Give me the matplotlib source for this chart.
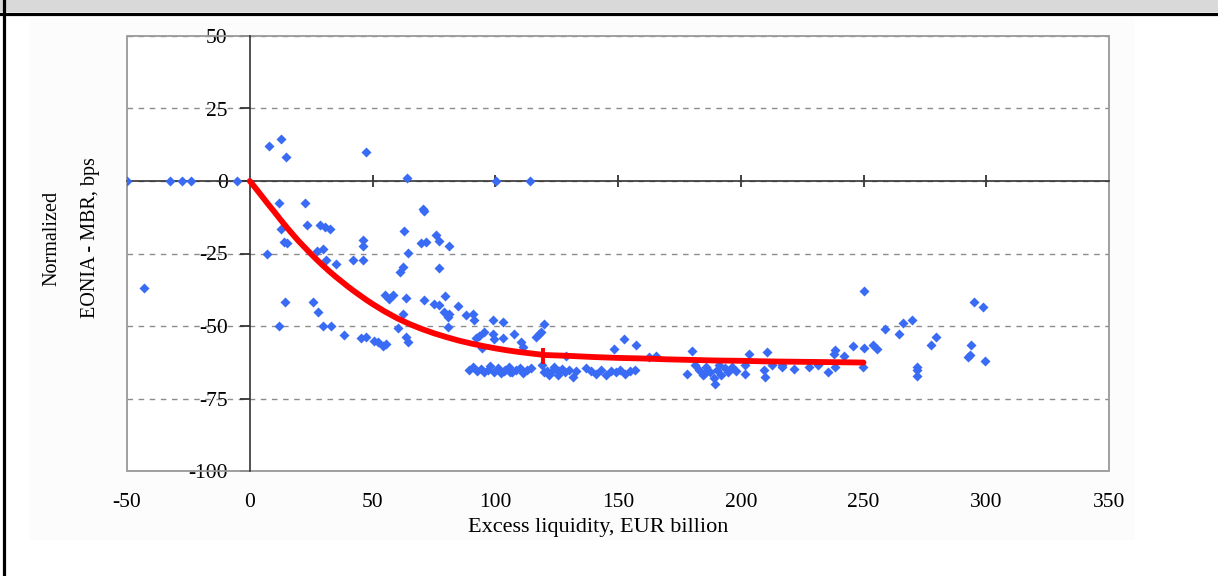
import matplotlib
matplotlib.use("Agg")
import matplotlib.pyplot as plt
from matplotlib.patches import Rectangle
from matplotlib.lines import Line2D

plt.rcParams['font.family'] = ['Liberation Serif', 'DejaVu Serif']
plt.rcParams['axes.unicode_minus'] = False

# Observaciones diarias: exceso de liquidez (mil millones EUR) frente a EONIA - MBR normalizado (pb)
liq_x = [
    -50, -32.5, -27.5, -24, -5, -43,
    7.7, 12.6, 14.6, 47.4, 64.2, 100.4, 114,
    11.8, 22.5, 12.6, 14, 15, 7, 23.3, 28.5, 30.5, 32.5, 27.5, 29.8, 31.2, 35, 42, 46,
    46, 46, 14.5, 25.7, 27.8, 11.8, 29.8, 33.2, 38.2, 45.4, 47.4, 50.8, 52.2, 54.2,
    55.6, 54.9, 58.3, 56.9, 63.7, 62.3, 60.3, 63.7, 64.4, 70.5, 71, 62.7, 64.4, 62.3,
    61.3, 69.8, 71.8, 75.9, 77.2, 81.3, 77, 71.1, 75.2, 77, 79.7, 79.3, 81.3, 80.6,
    84.7, 80.6, 88.1, 90.8, 91.5, 92.1, 93.5, 98.9, 103, 95.5, 98.9, 99.6, 103, 107.7,
    110.4, 111.2, 116.5, 118.6, 120, 94.6, 117.9,
    89.5, 91, 92.5, 94, 95.5, 97, 98, 99.5, 101, 102.5, 104, 105.5, 107, 108.5, 110,
    111.5, 113, 114.5, 103.5, 106,
    120, 122, 124, 119.2, 121,
    123, 125.5, 127, 128.5, 130, 131.5, 133, 126, 128.7,
    137, 139, 141, 143, 145, 147, 149, 151, 153, 155, 157,
    148.4, 152.4, 157.2, 162.6, 165.3, 180.2, 178.2,
    181.5, 183, 184.5, 186, 187.5, 189, 189.4, 190.5, 192, 193.5, 195, 196.5, 198, 185, 191,
    203.3, 210.7, 201.9, 201.9, 209.3, 210, 212.7, 216.8, 221.5, 216.8, 227.6, 231.4,
    235.5, 238.5, 238.5, 237.8, 241.9, 245.9, 250.4, 254, 255.4, 250.4, 249.6, 258.8,
    264.5, 265.9, 269.6, 271.7, 271.7, 271.7, 277.5, 279.5, 293.8, 292.7, 293.4, 295.1,
    298.8, 299.5,
]
spread_y = [
    0, 0, 0, 0, 0, -37,
    12, 14.5, 8.2, 10, 1, 0, 0,
    -7.5, -7.5, -16.4, -21, -21.5, -25.2, -15.2, -15.2, -16, -16.5, -24, -23.3, -27.3, -28.5, -27.3, -27.3,
    -20.2, -22.5, -41.7, -41.7, -45.2, -50, -50, -50, -53, -54.2, -53.8, -55, -55.6, -57,
    -56.1, -39.4, -39.4, -40.6, -40.3, -45.8, -50.7, -53.8, -55.6, -9.8, -10.5, -17.2, -24.7, -29.6,
    -31.4, -21.5, -21, -18.7, -20.6, -22.4, -30, -41.1, -42.3, -42.9, -39.7, -45.2, -45.8, -46.9,
    -43.2, -50.4, -46.3, -46, -48.1, -54, -53.6, -48.1, -48.6, -52.1, -52.7, -54.4, -54, -52.7,
    -55.6, -57.3, -53.8, -52.1, -49.2, -57.6, -52.7,
    -65, -64.3, -65.5, -64.8, -66, -65, -63.8, -65.8, -64.5, -66.2, -65, -64, -66, -65.2, -64.5,
    -66.3, -65, -64.4, -65.5, -65.8,
    -66, -67, -64, -63.6, -65.5,
    -65.5, -66.8, -64.8, -66, -65.2, -67.5, -65.5, -65.5, -60.2,
    -64.5, -65.5, -66.5, -65, -66.8, -65.5, -66, -65.2, -66.5, -65.5, -65,
    -58, -54.4, -56.4, -60.7, -60.2, -58.7, -66.5,
    -63.5, -65, -67, -64, -66, -68, -70, -65, -67, -64.5, -66, -64, -65.5, -66.5, -63.5,
    -59.6, -59, -63.6, -66.5, -65.3, -67.7, -63.6, -63.6, -64.8, -64, -64.2, -63.4,
    -65.7, -64.2, -58.4, -59.6, -60.5, -57, -57.6, -56.7, -57.9, -37.9, -64, -51.2,
    -52.7, -48.9, -47.8, -64, -65.3, -67.1, -56.5, -53.8, -56.5, -60.7, -59.9, -41.7,
    -43.4, -61.9,
]

# Curva ajustada
fit_x = [0, 2.5, 5, 7.5, 10, 12.5, 15, 17.5, 20, 22.5, 25, 27.5, 30, 32.5, 35, 37.5, 40,
         42.5, 45, 47.5, 50, 55, 60, 65, 70, 75, 80, 85, 90, 95, 100, 105,
         110, 115, 120, 130, 140, 150, 160, 170, 180, 190, 200, 210, 220, 230, 240, 250]
fit_y = [0, -2.6, -5.3, -8, -10.6, -13.3, -15.9, -18.4, -20.8, -23, -25.2, -27.3, -29.3,
         -31.2, -33, -34.7, -36.4, -38, -39.5, -41, -42.4, -45, -47.3, -49.3, -51, -52.5,
         -53.8, -55, -56, -56.9, -57.7, -58.4, -59, -59.5, -60, -60.3, -60.7, -61, -61.2,
         -61.5, -61.7, -61.9, -62, -62.2, -62.3, -62.4, -62.5, -62.6]

y_ticks = [50, 25, 0, -25, -50, -75, -100]
x_ticks = [-50, 0, 50, 100, 150, 200, 250, 300, 350]

fig = plt.figure(figsize=(12.18, 5.76), dpi=100)
fig.patch.set_facecolor('white')

# Marco del documento: franja gris, linea negra y borde izquierdo
fig.add_artist(Rectangle((30 / 1218, 1 - 540 / 576), 1105 / 1218, 522 / 576,
                         transform=fig.transFigure, facecolor='#fcfcfc', edgecolor='none', zorder=0))
fig.add_artist(Rectangle((0, 1 - 12 / 576), 1, 12 / 576, transform=fig.transFigure,
                         facecolor='#d9d9d9', edgecolor='none', zorder=0))
fig.add_artist(Line2D([0, 1], [1 - 13.5 / 576] * 2, transform=fig.transFigure,
                      color='black', lw=2.3))
fig.add_artist(Line2D([3.5 / 1218] * 2, [0, 1], transform=fig.transFigure,
                      color='black', lw=2.3))

ax = fig.add_axes([127 / 1218, 1 - 471 / 576, 982 / 1218, 435 / 576])
ax.set_facecolor('white')
ax.set_xlim(-50, 350)
ax.set_ylim(-100, 50)

ax.scatter(liq_x, spread_y, marker='D', s=26, color='#3a6bf5', linewidths=0, zorder=3)
ax.plot(fit_x, fit_y, color='#ff0000', lw=4.2, solid_capstyle='round', zorder=4)
ax.plot([119.5], [-60.3], marker='|', markersize=11, mew=2.8, color='#ff0000', zorder=4)

# Rejilla y recuadro gris del area de trazado
ax.set_yticks(y_ticks)
ax.yaxis.grid(True, color='#8c8c8c', lw=1, linestyle=(0, (4, 4)))
ax.set_axisbelow(True)
ax.add_patch(Rectangle((0, 0), 1, 1, transform=ax.transAxes, fill=False,
                       edgecolor='#999999', lw=1.3, zorder=2, clip_on=False))

# Ejes cruzando en el origen
for side in ['top', 'right']:
    ax.spines[side].set_visible(False)
ax.spines['left'].set_position(('data', 0))
ax.spines['bottom'].set_position(('data', 0))
for side in ['left', 'bottom']:
    ax.spines[side].set_color('#333333')
    ax.spines[side].set_linewidth(1.2)
    ax.spines[side].set_zorder(2.5)

ax.set_xticks([50, 100, 150, 200, 250, 300])
ax.tick_params(axis='x', direction='inout', length=8, width=1.3, color='#333333',
               labelbottom=False)
ax.tick_params(axis='y', direction='out', length=7, width=1.3, color='#333333',
               pad=9, labelsize=15.5)

sec = ax.secondary_xaxis('bottom')
sec.set_xticks(x_ticks)
sec.spines['bottom'].set_visible(False)
sec.tick_params(length=0, pad=16, labelsize=15.5)

ax.set_xlabel('Excess liquidity, EUR billion', fontsize=16)
ax.xaxis.set_label_coords(0.48, -0.108)

fig.text(52 / 1218, 1 - 238 / 576, 'Normalized', rotation=90, fontsize=14.5,
         ha='center', va='center')
fig.text(90 / 1218, 1 - 238 / 576, 'EONIA - MBR, bps', rotation=90, fontsize=14.5,
         ha='center', va='center')

plt.savefig('out.png', dpi=100)
